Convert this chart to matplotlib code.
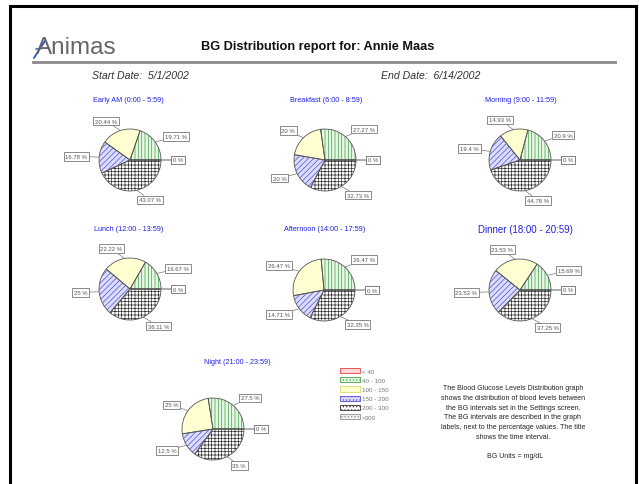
import matplotlib
matplotlib.use("Agg")
import matplotlib.pyplot as plt
from matplotlib.patches import Patch, Rectangle
import numpy as np

plt.rcParams['font.family'] = ['Liberation Sans', 'DejaVu Sans']
plt.rcParams['hatch.linewidth'] = 0.5

W, H = 639, 485

# ---------------- data ----------------
bg_intervals = ["< 40", "40 - 100", "100 - 150", "150 - 200", "200 - 300", ">300"]
periods = ["Early AM (0:00 - 5:59)", "Breakfast (6:00 - 8:59)", "Morning (9:00 - 11:59)",
           "Lunch (12:00 - 13:59)", "Afternoon (14:00 - 17:59)", "Dinner (18:00 - 20:59)",
           "Night (21:00 - 23:59)"]
early_am = [0, 19.71, 20.44, 16.78, 43.07, 0]
breakfast = [0, 27.27, 20, 20, 32.73, 0]
morning = [0, 20.9, 14.93, 19.4, 44.78, 0]
lunch = [0, 16.67, 22.22, 25, 36.11, 0]
afternoon = [0, 26.47, 26.47, 14.71, 32.35, 0]
dinner = [0, 15.69, 23.53, 23.53, 37.25, 0]
night = [0, 27.5, 25, 12.5, 35, 0]
series = [early_am, breakfast, morning, lunch, afternoon, dinner, night]

patient = "Annie Maas"
start_date = "5/1/2002"
end_date = "6/14/2002"

# ---------------- styles ----------------
face_colors = ["#ffd6d6", "#e6f6e6", "#ffffd2", "#dcdcff", "#ffffff", "#eeeeee"]
hatch_colors = ["#e04040", "#40a040", "#d8d870", "#5050d0", "#303030", "#909090"]
hatches = [None, "|||||", None, "//////", "+++++", "....."]
centers = [(130, 161), (325, 161), (520, 161), (130, 290), (324, 291), (520, 291), (213, 430)]
title_y = [101, 101, 100, 230, 230, 230, 363]
title_x = [128, 326, 521, 129, 325, 525, 237]
title_size = [5.2, 5.2, 5.2, 5.2, 5.2, 7.0, 5.2]
R = 31

fig = plt.figure(figsize=(W / 100, H / 100), dpi=100)
ax = fig.add_axes([0, 0, 1, 1])
ax.set_xlim(0, W)
ax.set_ylim(0, H)
ax.set_aspect('equal')
ax.axis('off')


def py(y):
    return H - y


# frame
ax.add_patch(Rectangle((10, -10), 626, py(7) + 10, fill=False, edgecolor='black',
                       linewidth=2.2, zorder=1))

# header
ax.text(36, py(48), "Animas", fontsize=17.5, color='#666666', va='center', ha='left')
ax.plot([34, 39, 45], [py(59), py(51), py(42)], color='#2255cc', lw=1.3, solid_capstyle='round')
ax.plot([36, 46], [py(50), py(49)], color='#2255cc', lw=1.0)
ax.text(318, py(47), "BG Distribution report for: " + patient, fontsize=9.2,
        fontweight='bold', color='#111111', ha='center', va='center')
ax.plot([33, 615], [py(63), py(63)], color='#8a8a8a', lw=2)
ax.text(92, py(76), "Start Date:  " + start_date, fontsize=7.6, style='italic',
        color='#333333', ha='left', va='center')
ax.text(381, py(76), "End Date:  " + end_date, fontsize=7.6, style='italic',
        color='#333333', ha='left', va='center')

# pies
for vals, name, (cx, cy), tx, ty, ts in zip(series, periods, centers, title_x, title_y, title_size):
    c = (cx, py(cy))
    wedges, _ = ax.pie(vals, colors=face_colors, startangle=0, counterclock=True,
                       center=c, radius=R, frame=True,
                       wedgeprops=dict(linewidth=0))
    hw, _ = ax.pie(vals, startangle=0, counterclock=True, center=c, radius=R, frame=True,
                   wedgeprops=dict(linewidth=0, facecolor='none'))
    for w, h, hc in zip(hw, hatches, hatch_colors):
        w.set_edgecolor(hc)
        if h:
            w.set_hatch(h)
    ew, _ = ax.pie(vals, startangle=0, counterclock=True, center=c, radius=R, frame=True,
                   wedgeprops=dict(linewidth=0.6, facecolor='none', edgecolor='#555555'))
    ax.text(tx, py(ty), name, fontsize=ts, color='#2020e0', ha='center', va='center')
    for w, v in zip(wedges, vals):
        ang = np.deg2rad((w.theta1 + w.theta2) / 2)
        ca, sa = np.cos(ang), np.sin(ang)
        edge = (c[0] + R * ca, c[1] + R * sa)
        lab = (c[0] + 1.38 * R * ca, c[1] + 1.32 * R * sa)
        ax.annotate(f"{v:g} %", xy=edge, xytext=lab, fontsize=4.3, color='#555555',
                    ha='left' if ca > 0.05 else ('right' if ca < -0.05 else 'center'),
                    va='center',
                    bbox=dict(boxstyle='square,pad=0.3', fc='white', ec='#777777', lw=0.6),
                    arrowprops=dict(arrowstyle='-', color='#777777', lw=0.5,
                                    shrinkA=0, shrinkB=0))

ax.set_xlim(0, W)
ax.set_ylim(0, H)
ax.axis('off')

# legend
handles = [Patch(facecolor=f, edgecolor=e, hatch=h, linewidth=0.6)
           for f, e, h in zip(face_colors, hatch_colors, ["", ".....", "", ".....", ".....", "....."])]
leg = fig.legend(handles, bg_intervals, loc='upper left', bbox_to_anchor=(340 / W, 1 - 369 / H),
                 frameon=False, fontsize=4.5, handlelength=3.2, handleheight=0.9,
                 labelspacing=0.55, handletextpad=0.3, borderpad=0, borderaxespad=0)
for t in leg.get_texts():
    t.set_color('#777777')

desc = ("The Blood Glucose Levels Distribution graph\n"
        "shows the distribution of blood levels between\n"
        "the BG intervals set in the Settings screen.\n"
        "The BG intervals are described in the graph\n"
        "labels, next to the percentage values. The title\n"
        "shows the time interval.")
ax.text(513, py(413), desc, fontsize=5.0, color='#222222', ha='center', va='center',
        linespacing=1.55)
ax.text(515, py(457), "BG Units = mg/dL", fontsize=5.0, color='#222222', ha='center', va='center')

fig.savefig("out.png", dpi=100)
